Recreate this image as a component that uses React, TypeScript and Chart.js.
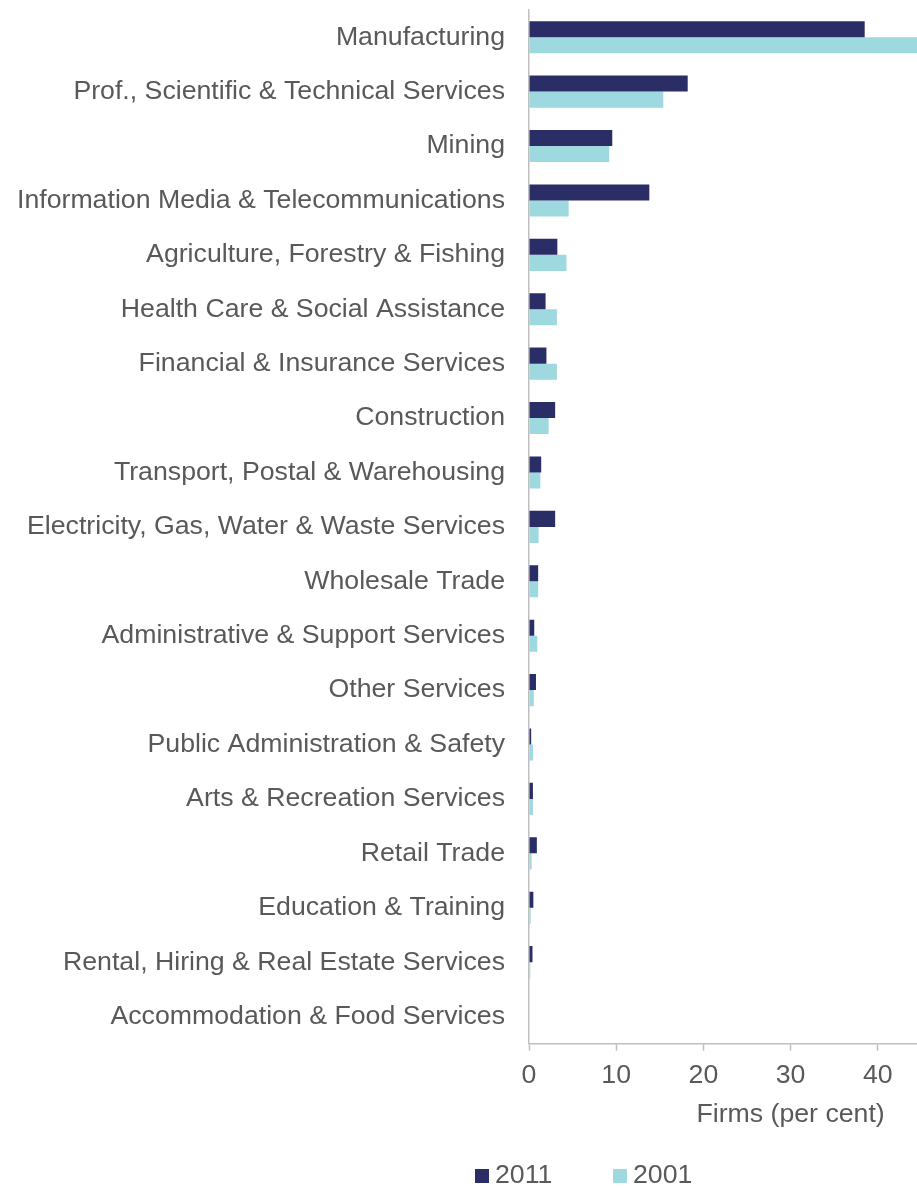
import React, { useEffect, useRef } from "react";
import { Chart, registerables } from "chart.js";

Chart.register(...registerables);

const categories = [
  "Manufacturing",
  "Prof., Scientific & Technical Services",
  "Mining",
  "Information Media & Telecommunications",
  "Agriculture, Forestry & Fishing",
  "Health Care & Social Assistance",
  "Financial & Insurance Services",
  "Construction",
  "Transport, Postal & Warehousing",
  "Electricity, Gas, Water & Waste Services",
  "Wholesale Trade",
  "Administrative & Support Services",
  "Other Services",
  "Public Administration & Safety",
  "Arts & Recreation Services",
  "Retail Trade",
  "Education & Training",
  "Rental, Hiring & Real Estate Services",
  "Accommodation & Food Services",
];

const values2011 = [38.5, 18.2, 9.55, 13.8, 3.25, 1.9, 2.0, 3.0, 1.4, 3.0, 1.05, 0.6, 0.8, 0.25, 0.45, 0.9, 0.5, 0.4, 0];
const values2001 = [45, 15.4, 9.2, 4.55, 4.3, 3.2, 3.2, 2.25, 1.3, 1.1, 1.05, 0.95, 0.55, 0.45, 0.45, 0.3, 0.2, 0.15, 0];

const seriesLabels = ["2011", "2001"];
const xTicks = [0, 10, 20, 30, 40];
const xTitle = "Firms (per cent)";

const DARK = "#2a2d66";
const LIGHT = "#9ed9df";
const TEXT = "#595959";
const AXIS = "#bfbfbf";
const FONT = "'Liberation Sans', Arial, sans-serif";
const FSIZE = 26.7;

const extrasPlugin = {
  id: "extras",
  afterDraw(chart: any) {
    const ctx = chart.ctx;
    const xs = chart.scales.x;
    ctx.save();
    ctx.font = `${FSIZE}px ${FONT}`;
    ctx.fillStyle = TEXT;
    ctx.textBaseline = "middle";
    ctx.textAlign = "center";
    ctx.fillText(xTitle, xs.getPixelForValue(30), chart.chartArea.bottom + 71);
    // legend
    let lx = 475;
    const ly = 1176;
    chart.data.datasets.forEach((ds: any) => {
      ctx.fillStyle = ds.backgroundColor;
      ctx.fillRect(lx, ly - 7, 14, 14);
      ctx.fillStyle = TEXT;
      ctx.textAlign = "left";
      ctx.fillText(ds.label, lx + 20, ly);
      lx += 138;
    });
    ctx.restore();
  },
};

export default function App() {
  const ref = useRef<HTMLCanvasElement>(null);
  useEffect(() => {
    if (!ref.current) return;
    const chart = new Chart(ref.current, {
      type: "bar",
      data: {
        labels: categories,
        datasets: [
          { label: seriesLabels[0], data: values2011, backgroundColor: DARK, categoryPercentage: 0.59, barPercentage: 1 },
          { label: seriesLabels[1], data: values2001, backgroundColor: LIGHT, categoryPercentage: 0.59, barPercentage: 1 },
        ],
      },
      options: {
        indexAxis: "y",
        animation: false,
        responsive: true,
        maintainAspectRatio: false,
        layout: { padding: { top: 10, bottom: 87.2, left: 0, right: 0 } },
        plugins: { legend: { display: false }, tooltip: { enabled: false } },
        scales: {
          x: {
            min: 0,
            max: 44.5,
            afterBuildTicks: (scale: any) => {
              scale.ticks = xTicks.map((v) => ({ value: v }));
            },
            ticks: { font: { family: FONT, size: FSIZE }, color: TEXT, padding: 9, includeBounds: false },
            grid: { drawOnChartArea: false, drawTicks: true, tickLength: 7, color: AXIS, tickWidth: 1.5 },
            border: { display: true, color: AXIS, width: 1.5 },
            title: { display: false },
          },
          y: {
            afterFit: (scale: any) => {
              scale.width = 529;
              scale.paddingTop = 0;
              scale.paddingBottom = 0;
            },
            ticks: { font: { family: FONT, size: FSIZE }, color: TEXT, padding: 24, autoSkip: false },
            grid: { display: false, drawTicks: false },
            border: { display: true, color: AXIS, width: 1.5 },
          },
        },
      },
      plugins: [extrasPlugin],
    });
    return () => chart.destroy();
  }, []);
  return (
    <div style={{ position: "fixed", left: 0, top: 0, width: 917, height: 1188, background: "#fff" }}>
      <canvas ref={ref} />
    </div>
  );
}
